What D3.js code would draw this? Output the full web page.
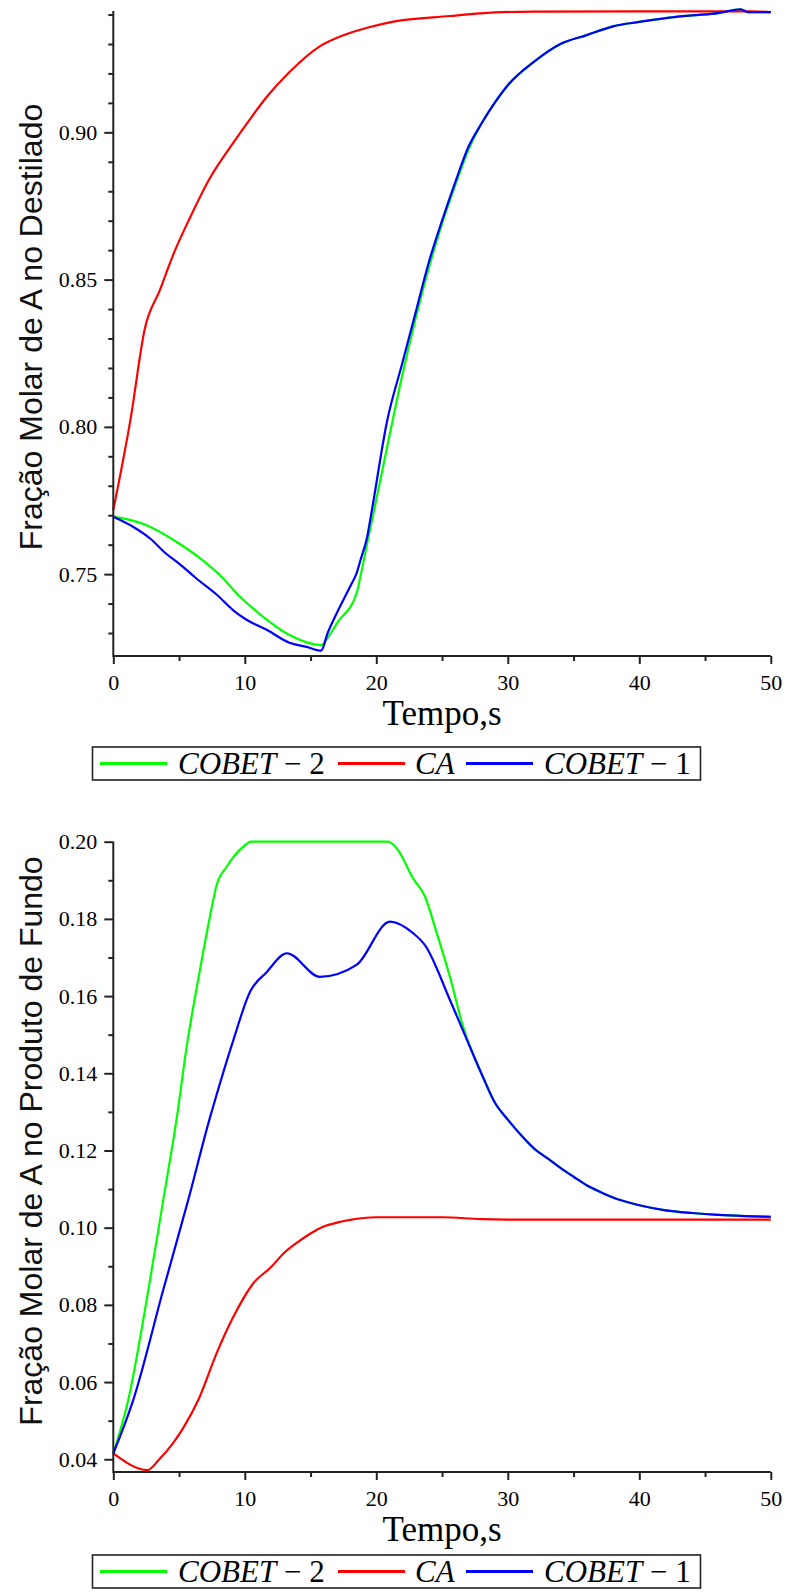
<!DOCTYPE html>
<html>
<head>
<meta charset="utf-8">
<script src="https://cdn.jsdelivr.net/npm/d3@7"></script>
<style>
  body { margin: 0; background: #fff; }
  svg { display: block; }
</style>
</head>
<body>
<div id="container"></div>
<script>
// ---- data ----
// top panel: Fração Molar de A no Destilado
const topT_cobet2 = [0, 2.3, 5, 6.8, 8.1, 9.6, 11.4, 13.4, 15.8, 16.4, 17, 18.5, 18.9, 19.4, 19.8, 21, 22, 23, 24, 25, 26, 27, 28, 29, 30, 32, 34, 36, 38, 40, 42, 44, 46, 47.7, 48.3, 50];
const topY_cobet2 = [0.7695, 0.767, 0.7604, 0.7547, 0.7497, 0.7425, 0.7355, 0.7293, 0.7259, 0.729, 0.7333, 0.7435, 0.7515, 0.7625, 0.771, 0.797, 0.818, 0.837, 0.854, 0.869, 0.882, 0.894, 0.903, 0.91, 0.916, 0.924, 0.93, 0.933, 0.936, 0.9375, 0.9388, 0.9397, 0.9405, 0.9418, 0.9408, 0.9408];

const topT_ca = [0, 1.3, 2.4, 3.55, 4.56, 5.83, 7.35, 9.13, 10.4, 11.66, 13.4, 15.7, 17.5, 19.3, 21.3, 25.6, 27.9, 31.9, 40, 48.4, 50];
const topY_ca = [0.7718, 0.8023, 0.8334, 0.8465, 0.8585, 0.871, 0.8845, 0.8965, 0.9045, 0.912, 0.9205, 0.9292, 0.933, 0.9355, 0.9376, 0.9395, 0.9404, 0.941, 0.9411, 0.9411, 0.9408];

const topT_cobet1 = [0, 1.5, 2.8, 4, 5, 6.3, 7.9, 9.1, 10.1, 11.7, 13.4, 14.7, 15.8, 16.3, 17, 18, 18.5, 18.8, 19.3, 19.6, 20.8, 22, 23, 24, 25, 26, 27, 28, 29, 30, 32, 34, 36, 38, 40, 42, 44, 46, 47.7, 48.3, 50];
const topY_cobet1 = [0.7695, 0.7661, 0.7621, 0.757, 0.7536, 0.7486, 0.7429, 0.7378, 0.7346, 0.731, 0.7267, 0.7253, 0.724, 0.73, 0.7368, 0.7457, 0.7503, 0.7548, 0.7625, 0.770, 0.8015, 0.822, 0.839, 0.856, 0.87, 0.883, 0.895, 0.903, 0.91, 0.916, 0.924, 0.93, 0.933, 0.936, 0.9375, 0.9388, 0.9397, 0.9405, 0.9418, 0.9408, 0.9408];

// bottom panel: Fração Molar de A no Produto de Fundo
const botT_cobet2 = [0, 1.14, 2.54, 3.8, 4.82, 5.58, 6.59, 7.35, 7.86, 8.62, 9.89, 10.5, 20.9, 21.55, 22.8, 23.7, 24.6, 25.6, 26.6, 28.1, 29, 30, 31, 32, 33, 34, 35, 36, 37, 38, 39, 40, 42, 44, 46, 48, 50];
const botY_cobet2 = [0.0415, 0.0554, 0.0813, 0.1072, 0.1283, 0.1469, 0.1668, 0.1806, 0.1888, 0.1935, 0.1987, 0.2, 0.2, 0.1983, 0.1905, 0.1858, 0.1763, 0.165, 0.1521, 0.1391, 0.1325, 0.128, 0.124, 0.1205, 0.118, 0.1155, 0.1132, 0.111, 0.1093, 0.1078, 0.1067, 0.1058, 0.1045, 0.1038, 0.1033, 0.103, 0.1028];

const botT_ca = [0, 2.6, 3.5, 4.5, 5.3, 6.47, 7.86, 9.13, 10.65, 12, 13, 14, 15, 16, 17, 18, 19, 20, 25, 28, 30, 40, 50];
const botY_ca = [0.0415, 0.0372, 0.04, 0.044, 0.048, 0.0554, 0.0675, 0.0769, 0.0856, 0.0898, 0.0935, 0.0962, 0.0985, 0.1003, 0.1013, 0.102, 0.1025, 0.1027, 0.1027, 0.1022, 0.1021, 0.1021, 0.1021];

const botT_cobet1 = [0, 1.52, 3.8, 5.7, 7.35, 7.86, 9.13, 10.4, 11.66, 13.2, 15.7, 18.5, 21.04, 22.8, 23.7, 25.6, 26.9, 28.1, 29, 30, 31, 32, 33, 34, 35, 36, 37, 38, 39, 40, 42, 44, 46, 48, 50];
const botY_cobet1 = [0.0415, 0.0554, 0.0839, 0.1072, 0.1285, 0.1345, 0.1486, 0.1611, 0.1662, 0.1711, 0.165, 0.1681, 0.1793, 0.1763, 0.1732, 0.159, 0.1486, 0.1391, 0.1325, 0.128, 0.124, 0.1205, 0.118, 0.1155, 0.1132, 0.111, 0.1093, 0.1078, 0.1067, 0.1058, 0.1045, 0.1038, 0.1033, 0.103, 0.1028];

const xMajorTicks = [0, 10, 20, 30, 40, 50];
const xMinorTicks = [5, 15, 25, 35, 45];
const topYMajor = [0.75, 0.80, 0.85, 0.90];
const topYMinor = [0.73, 0.74, 0.76, 0.77, 0.78, 0.79, 0.81, 0.82, 0.83, 0.84, 0.86, 0.87, 0.88, 0.89, 0.91, 0.92, 0.93, 0.94];
const botYMajor = [0.04, 0.06, 0.08, 0.10, 0.12, 0.14, 0.16, 0.18, 0.20];
const botYMinor = [0.05, 0.07, 0.09, 0.11, 0.13, 0.15, 0.17, 0.19];

const seriesNames = ['COBET', 'CA', 'COBET'];
const seriesSuffix = [' \u2212 2', '', ' \u2212 1'];
const seriesColors = ['#00ff00', '#ff0000', '#0000ff'];

const xLabel = 'Tempo,s';
const topYLabel = 'Fração Molar de A no Destilado';
const botYLabel = 'Fração Molar de A no Produto de Fundo';

// ---- drawing ----
const width = 791, height = 1595;
const serif = '"Liberation Serif", "Times New Roman", serif';
const sans = '"Liberation Sans", Arial, sans-serif';

const svg = d3.select('#container').append('svg')
  .attr('width', width)
  .attr('height', height);

const x = d3.scaleLinear().domain([0, 50]).range([113.3, 770.8]);

function zip(ts, vs) {
  return ts.map((t, i) => ({ t: t, v: vs[i] }));
}

function panel(cfg) {
  const y = d3.scaleLinear().domain(cfg.yDomain).range(cfg.yRange);
  const g = svg.append('g');
  const x0 = x.range()[0];
  const yBottom = cfg.yRange[0];

  // curves
  const line = d3.line()
    .x(d => x(d.t))
    .y(d => y(d.v))
    .curve(d3.curveMonotoneX);

  cfg.series.forEach((s, i) => {
    g.append('path')
      .datum(s)
      .attr('d', line)
      .attr('fill', 'none')
      .attr('stroke', seriesColors[i])
      .attr('stroke-width', 2.2)
      .attr('stroke-linejoin', 'round');
  });

  // minor ticks
  g.append('g')
    .attr('transform', `translate(0,${yBottom})`)
    .call(d3.axisBottom(x).tickValues(xMinorTicks).tickSize(5).tickSizeOuter(0).tickFormat(''))
    .call(a => a.select('.domain').remove());
  g.append('g')
    .attr('transform', `translate(${x0},0)`)
    .call(d3.axisLeft(y).tickValues(cfg.yMinor).tickSize(5).tickSizeOuter(0).tickFormat(''))
    .call(a => a.select('.domain').remove());

  // major ticks + labels
  const xAxis = g.append('g')
    .attr('transform', `translate(0,${yBottom})`)
    .call(d3.axisBottom(x).tickValues(xMajorTicks).tickSize(8).tickSizeOuter(0).tickPadding(10).tickFormat(d3.format('d')));
  const yAxis = g.append('g')
    .attr('transform', `translate(${x0},0)`)
    .call(d3.axisLeft(y).tickValues(cfg.yMajor).tickSize(9).tickSizeOuter(0).tickPadding(7).tickFormat(d3.format('.2f')));

  [xAxis, yAxis].forEach(a => {
    a.selectAll('text').attr('font-family', serif).attr('font-size', 22).attr('fill', '#000');
    a.select('.domain').remove();
  });
  g.selectAll('.tick line').attr('stroke', '#222').attr('stroke-width', 2);

  // axis lines
  g.append('line')
    .attr('x1', x0).attr('x2', x.range()[1])
    .attr('y1', yBottom).attr('y2', yBottom)
    .attr('stroke', '#222').attr('stroke-width', 2);
  g.append('line')
    .attr('x1', x0).attr('x2', x0)
    .attr('y1', cfg.yRange[1]).attr('y2', yBottom + 1)
    .attr('stroke', '#222').attr('stroke-width', 2);

  // titles
  g.append('text')
    .attr('x', 442).attr('y', yBottom + 69)
    .attr('text-anchor', 'middle')
    .attr('font-family', serif).attr('font-size', 35)
    .text(xLabel);

  g.append('text')
    .attr('transform', `translate(42,${cfg.yTitleY}) rotate(-90)`)
    .attr('text-anchor', 'middle')
    .attr('font-family', sans).attr('font-size', 32)
    .attr('fill', '#111')
    .text(cfg.yTitle);

  // legend
  const ly = cfg.legendY;
  const lg = g.append('g');
  lg.append('rect')
    .attr('x', 92.5).attr('y', ly)
    .attr('width', 608).attr('height', 33)
    .attr('fill', '#fff').attr('stroke', '#222').attr('stroke-width', 1.6);
  const lineX = [100, 338, 466];
  const textX = [178, 415, 544];
  seriesNames.forEach((name, i) => {
    lg.append('line')
      .attr('x1', lineX[i]).attr('x2', lineX[i] + 67)
      .attr('y1', ly + 16.5).attr('y2', ly + 16.5)
      .attr('stroke', seriesColors[i]).attr('stroke-width', 3);
    const t = lg.append('text')
      .attr('x', textX[i]).attr('y', ly + 27)
      .attr('font-family', serif).attr('font-size', 31);
    t.append('tspan').attr('font-style', 'italic').text(name);
    if (seriesSuffix[i]) t.append('tspan').text(seriesSuffix[i]);
  });
}

panel({
  yDomain: [0.7222, 0.9412],
  yRange: [656, 11],
  yMajor: topYMajor,
  yMinor: topYMinor,
  yTitle: topYLabel,
  yTitleY: 327,
  legendY: 747,
  series: [zip(topT_cobet2, topY_cobet2), zip(topT_ca, topY_ca), zip(topT_cobet1, topY_cobet1)]
});

panel({
  yDomain: [0.0367, 0.20],
  yRange: [1472, 841.7],
  yMajor: botYMajor,
  yMinor: botYMinor,
  yTitle: botYLabel,
  yTitleY: 1141,
  legendY: 1555,
  series: [zip(botT_cobet2, botY_cobet2), zip(botT_ca, botY_ca), zip(botT_cobet1, botY_cobet1)]
});
</script>
</body>
</html>
